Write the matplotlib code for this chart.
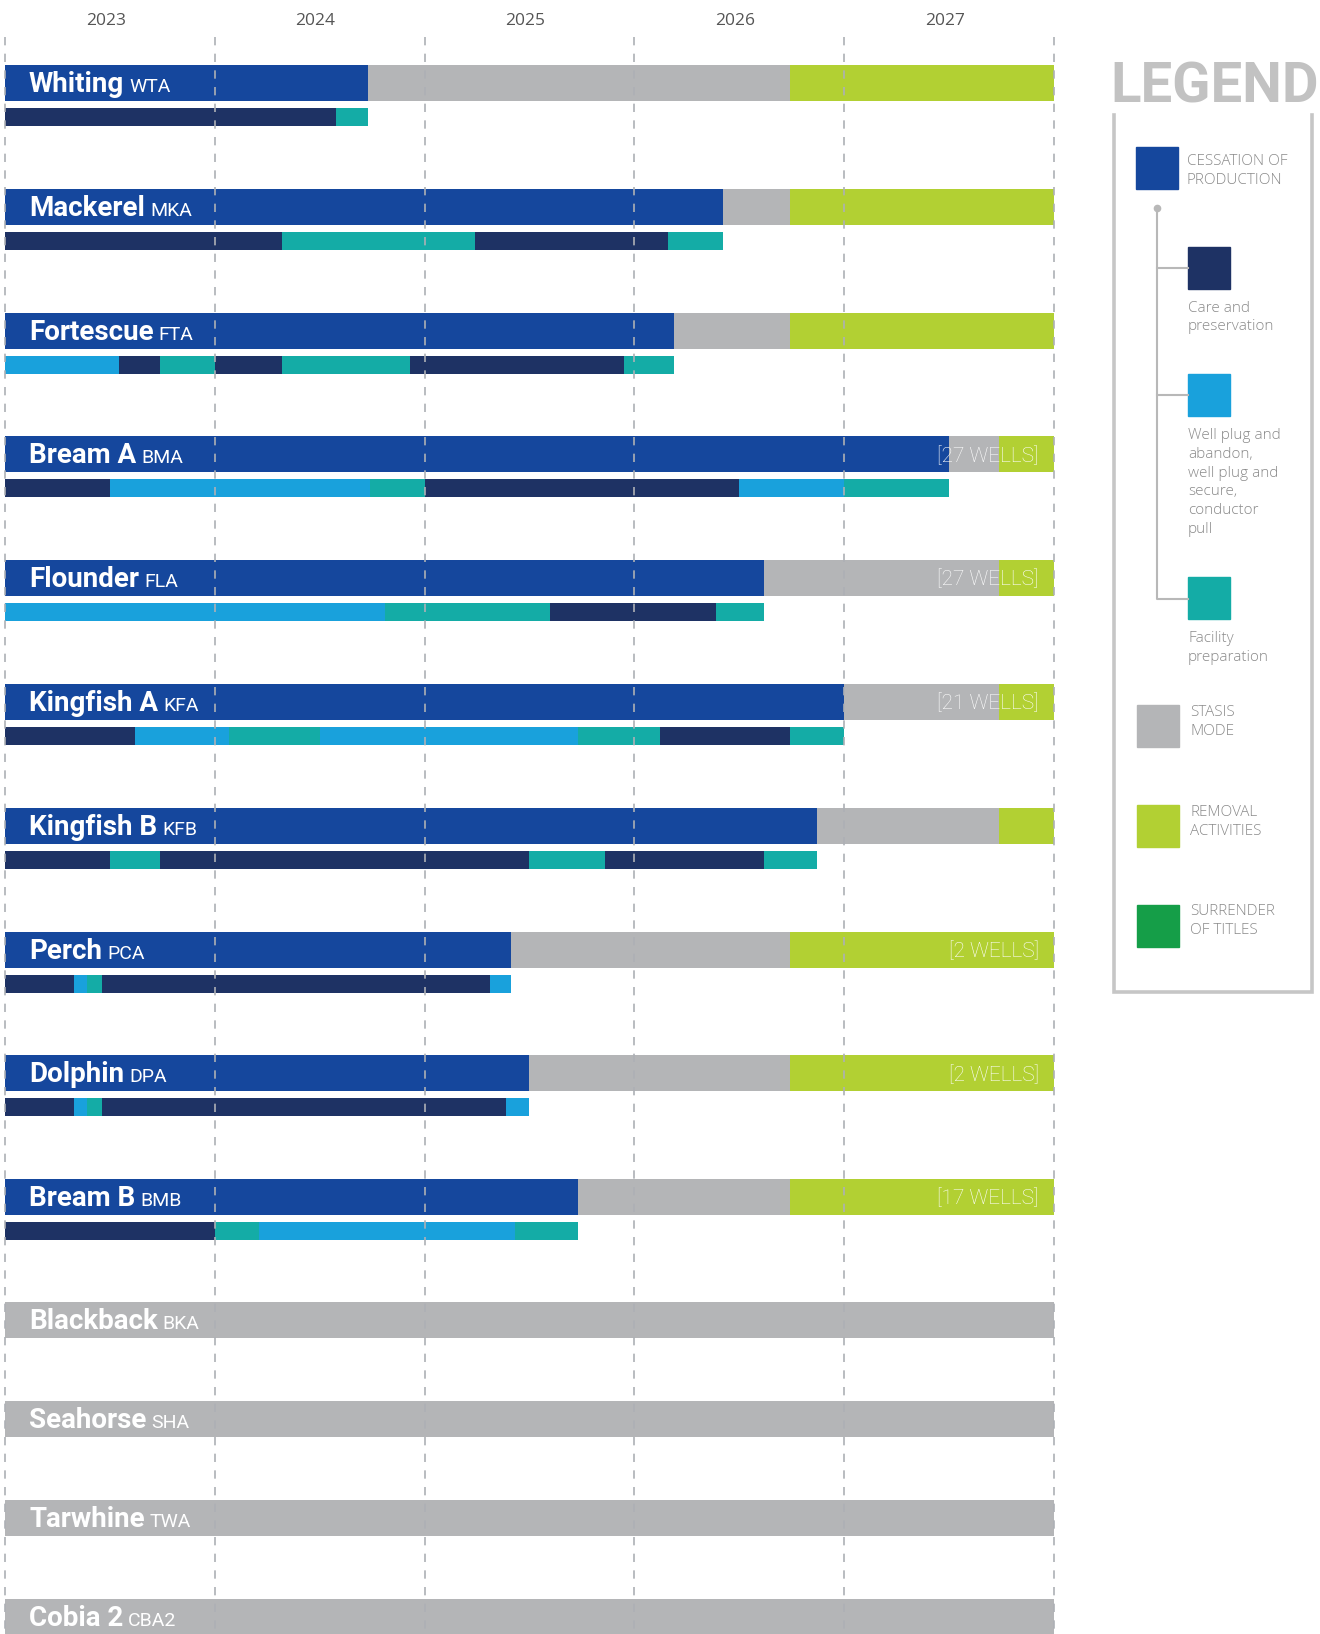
import matplotlib
matplotlib.use("Agg")
import matplotlib.pyplot as plt
from matplotlib.patches import Rectangle

# Timeline ...
years = [2023, 2024, 2025, 2026, 2027]
t0, t1 = 2023.0, 2028.0

# Active fields ...
fields = ["Whiting", "Mackerel", "Fortescue", "Bream A", "Flounder",
          "Kingfish A", "Kingfish B", "Perch", "Dolphin", "Bream B"]
codes = ["WTA", "MKA", "FTA", "BMA", "FLA", "KFA", "KFB", "PCA", "DPA", "BMB"]
cop_end = [2024.73, 2026.42, 2026.19, 2027.50, 2026.62,
           2027.00, 2026.87, 2025.41, 2025.50, 2025.73]
stasis_end = [2026.74, 2026.74, 2026.74, 2027.74, 2027.74,
              2027.74, 2027.74, 2026.74, 2026.74, 2026.74]
wells = ["", "", "", "[27 WELLS]", "[27 WELLS]", "[21 WELLS]", "",
         "[2 WELLS]", "[2 WELLS]", "[17 WELLS]"]

# Sub-phases (end of each consecutive phase, starting at 2023) ...
sub_ends = [
    [2024.58, 2024.73],
    [2024.32, 2025.24, 2026.16, 2026.42],
    [2023.545, 2023.74, 2024.00, 2024.32, 2024.93, 2025.95, 2026.19],
    [2023.50, 2024.74, 2025.00, 2026.50, 2027.00, 2027.50],
    [2024.81, 2025.60, 2026.39, 2026.62],
    [2023.62, 2024.07, 2024.50, 2025.73, 2026.12, 2026.74, 2027.00],
    [2023.50, 2023.74, 2025.50, 2025.86, 2026.62, 2026.87],
    [2023.33, 2023.39, 2023.46, 2025.31, 2025.41],
    [2023.33, 2023.39, 2023.46, 2025.39, 2025.50],
    [2024.00, 2024.21, 2025.43, 2025.73],
]
sub_phases = [
    ["care", "fac"],
    ["care", "fac", "care", "fac"],
    ["plug", "care", "fac", "care", "fac", "care", "fac"],
    ["care", "plug", "fac", "care", "plug", "fac"],
    ["plug", "fac", "care", "fac"],
    ["care", "plug", "fac", "plug", "fac", "care", "fac"],
    ["care", "fac", "care", "fac", "care", "fac"],
    ["care", "plug", "fac", "care", "plug"],
    ["care", "plug", "fac", "care", "plug"],
    ["care", "fac", "plug", "fac"],
]

# Fields in stasis for the whole period ...
idle_fields = ["Blackback", "Seahorse", "Tarwhine", "Cobia 2"]
idle_codes = ["BKA", "SHA", "TWA", "CBA2"]

# Legend ...
legend_keys = ["cop", "care", "plug", "fac", "stasis", "removal", "surrender"]
legend_labels = [
    ["CESSATION OF", "PRODUCTION"],
    ["Care and", "preservation"],
    ["Well plug and", "abandon,", "well plug and", "secure,", "conductor", "pull"],
    ["Facility", "preparation"],
    ["STASIS", "MODE"],
    ["REMOVAL", "ACTIVITIES"],
    ["SURRENDER", "OF TITLES"],
]

colours = {
    "cop": "#15479d",
    "care": "#1e3264",
    "plug": "#19a1dc",
    "fac": "#14aca6",
    "stasis": "#b4b5b7",
    "removal": "#b2d033",
    "surrender": "#159e48",
}

# **************************************************************************

W, H = 1320, 1634
fg = plt.figure(figsize=(W / 100, H / 100), dpi=100)

# Chart axis: x in years, y in pixels from the top ...
px_per_year = 209.8
x_left = 5.0
ax = fg.add_axes([0, 0, 1, 1])
ax.set_xlim(t0 - x_left / px_per_year, t0 + (W - x_left) / px_per_year)
ax.set_ylim(H, 0)
ax.axis("off")

name_font = dict(family="Roboto", fontweight="bold", fontsize=20, color="white")
code_font = dict(family="Roboto", fontweight="normal", fontsize=14, color="white")

row0, row_step = 83.0, 123.8
main_h, sub_h, sub_off = 36.0, 18.0, 34.0

labels = []
for i, name in enumerate(fields):
    yc = row0 + row_step * i
    ax.barh(yc, cop_end[i] - t0, left=t0, height=main_h, color=colours["cop"], zorder=2)
    ax.barh(yc, stasis_end[i] - cop_end[i], left=cop_end[i], height=main_h,
            color=colours["stasis"], zorder=2)
    ax.barh(yc, t1 - stasis_end[i], left=stasis_end[i], height=main_h,
            color=colours["removal"], zorder=2)

    start = t0
    for end, phase in zip(sub_ends[i], sub_phases[i]):
        ax.barh(yc + sub_off, end - start, left=start, height=sub_h,
                color=colours[phase], zorder=2)
        start = end

    labels.append((yc, name, codes[i]))
    if wells[i]:
        ax.text(t0 + (1039 - x_left) / px_per_year, yc + 7.5, wells[i],
                ha="right", va="baseline", family="Roboto", fontweight="light",
                fontsize=15, color="white", zorder=4)

idle0, idle_step = 1320.0, 99.0
for j, name in enumerate(idle_fields):
    yc = idle0 + idle_step * j
    ax.barh(yc, t1 - t0, left=t0, height=main_h, color=colours["stasis"], zorder=2)
    labels.append((yc, name, idle_codes[j]))

# Grid lines ...
ax.vlines(years + [t1], 37, H, colors="#adb0b5", linestyles=(0, (5, 5)),
          linewidth=1.2, zorder=3)

# Year labels ...
for yr in years:
    ax.text(yr + 0.48, 20.5, f"{yr:d}", ha="center", va="center",
            family="Open Sans", fontsize=12.5, color="#555555")

# Field labels ...
fg.canvas.draw()
rend = fg.canvas.get_renderer()
inv = ax.transData.inverted()
x_name = t0 + (29 - x_left) / px_per_year
for yc, name, code in labels:
    t = ax.text(x_name, yc + 9, name, ha="left", va="baseline", zorder=4, **name_font)
    bb = t.get_window_extent(renderer=rend)
    xr = inv.transform((bb.x1 + 5, 0))[0]
    ax.text(xr, yc + 9, code, ha="left", va="baseline", zorder=4, **code_font)

# **************************************************************************

# Legend axis in pixels ...
lx = fg.add_axes([0, 0, 1, 1])
lx.set_xlim(0, W)
lx.set_ylim(H, 0)
lx.axis("off")
lx.patch.set_alpha(0)

lx.text(1110, 102, "LEGEND", ha="left", va="baseline", family="Roboto",
        fontweight="bold", fontsize=40.5, color="#c2c2c2")
lx.plot([1114, 1114, 1312, 1312], [115, 992, 992, 115], color="#c6c6c6",
        linewidth=2.6, solid_joinstyle="miter")

# Tree connector ...
lx.plot([1157, 1157, 1188], [208, 599, 599], color="#b8b8b8", linewidth=1.5)
lx.plot([1157, 1188], [268, 268], color="#b8b8b8", linewidth=1.5)
lx.plot([1157, 1188], [395, 395], color="#b8b8b8", linewidth=1.5)
lx.plot([1157], [208], marker="o", markersize=4.5, color="#b8b8b8")

sq_x = [1136, 1188, 1188, 1188, 1137, 1137, 1137]
sq_y = [147, 247, 374, 577, 705, 805, 905]
txt_x = [1187, 1188, 1188, 1188, 1190, 1190, 1190]
txt_y = [161.5, 308, 435.5, 638.5, 712.5, 812.5, 911.5]
for k, key in enumerate(legend_keys):
    lx.add_patch(Rectangle((sq_x[k], sq_y[k]), 42, 42, color=colours[key]))
    for n, line in enumerate(legend_labels[k]):
        lx.text(txt_x[k], txt_y[k] + 18.8 * n, line, ha="left", va="center",
                family="Open Sans", fontweight="light", fontsize=11, color="#8a8a8a")

fg.savefig("out.png", dpi=100)
plt.close(fg)
